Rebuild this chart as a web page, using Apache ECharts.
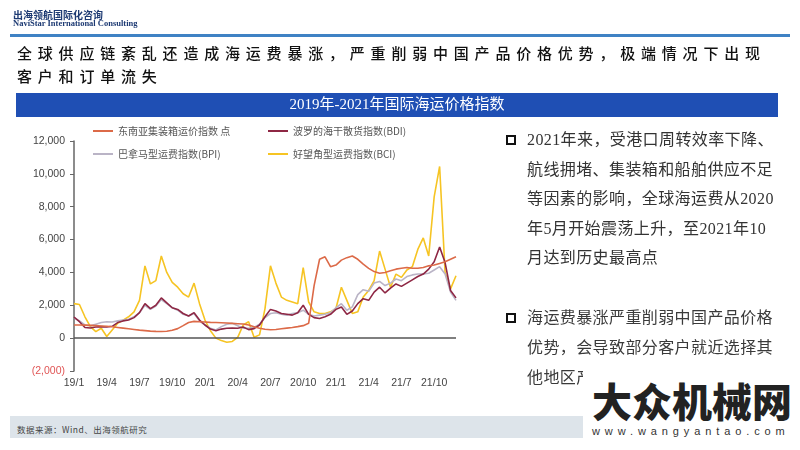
<!DOCTYPE html>
<html>
<head>
<meta charset="utf-8">
<script src="https://cdn.jsdelivr.net/npm/echarts@6.0.0/dist/echarts.min.js"></script>
<style>
  html, body { margin:0; padding:0; background:#fff; }
  body { width:800px; height:450px; position:relative; overflow:hidden; }
  #chart { position:absolute; left:0; top:0; width:800px; height:450px; }
  .ov { position:absolute; white-space:nowrap; z-index:2; }
  .cn { font-family:"Noto Sans CJK SC", sans-serif; }
  .bul { position:absolute; width:10px; height:10px; box-sizing:border-box; border:2.5px solid #111; z-index:2; }
  .body { font-family:"Liberation Serif","Noto Sans CJK SC",serif; font-size:16px; letter-spacing:0.4px; color:#333; }
</style>
</head>
<body>
<div id="chart"></div>

<div class="ov cn" style="left:13px;top:7px;font-size:10px;font-weight:bold;color:#1d3a73;">出海领航国际化咨询</div>
<div class="ov" style="left:13px;top:18px;font:bold 8.5px 'Liberation Serif',serif;color:#1d3a73;">NaviStar International Consulting</div>
<div class="ov" style="left:10px;top:34px;width:780px;height:3px;background:#3f82c4;"></div>

<div class="ov cn" style="left:17px;top:41px;font-size:15px;font-weight:500;line-height:23px;letter-spacing:5.8px;color:#111;">全球供应链紊乱还造成海运费暴涨，严重削弱中国产品价格优势，极端情况下出现</div>
<div class="ov cn" style="left:17px;top:64px;font-size:15px;font-weight:500;line-height:23px;letter-spacing:5.8px;color:#111;">客户和订单流失</div>

<div class="bul" style="left:506px;top:135px;"></div>
<div class="ov body" style="left:527px;top:125px;line-height:29.5px;">2021年来，受港口周转效率下降、<br>航线拥堵、集装箱和船舶供应不足<br>等因素的影响，全球海运费从2020<br>年5月开始震荡上升，至2021年10<br>月达到历史最高点</div>

<div class="bul" style="left:506px;top:313px;"></div>
<div class="ov body" style="left:527px;top:303px;line-height:30px;color:#3a3a3a;">海运费暴涨严重削弱中国产品价格<br>优势，会导致部分客户就近选择其<br>他地区产</div>

<div class="ov" style="left:10px;top:416px;width:575px;height:22px;background:#dde4ea;"></div>
<div class="ov cn" style="left:17px;top:422px;font-size:8.5px;line-height:14px;letter-spacing:0.5px;color:#444;">数据来源：Wind、出海领航研究</div>

<div class="ov" style="left:583px;top:368px;width:217px;height:82px;background:#fff;z-index:3;"></div>
<div class="ov cn" style="left:592px;top:380px;font-size:40px;line-height:40px;font-weight:900;color:#222;z-index:4;">大众机械网</div>
<div class="ov" style="left:592px;top:424px;font:11px 'Liberation Sans',sans-serif;line-height:14px;letter-spacing:4.9px;color:#333;z-index:4;">www.wangyantao.com</div>

<script>
const chartTitle = '2019年-2021年国际海运价格指数';
const seriesNames = ['东南亚集装箱运价指数 点', '波罗的海干散货指数(BDI)', '巴拿马型运费指数(BPI)', '好望角型运费指数(BCI)'];

const categories = [
  '2019-01-01','2019-01-16','2019-02-01','2019-02-16','2019-03-01','2019-03-16','2019-04-01','2019-04-16',
  '2019-05-01','2019-05-16','2019-06-01','2019-06-16','2019-07-01','2019-07-16','2019-08-01','2019-08-16',
  '2019-09-01','2019-09-16','2019-10-01','2019-10-16','2019-11-01','2019-11-16','2019-12-01','2019-12-16',
  '2020-01-01','2020-01-16','2020-02-01','2020-02-16','2020-03-01','2020-03-16','2020-04-01','2020-04-16',
  '2020-05-01','2020-05-16','2020-06-01','2020-06-16','2020-07-01','2020-07-16','2020-08-01','2020-08-16',
  '2020-09-01','2020-09-16','2020-10-01','2020-10-16','2020-11-01','2020-11-16','2020-12-01','2020-12-16',
  '2021-01-01','2021-01-16','2021-02-01','2021-02-16','2021-03-01','2021-03-16','2021-04-01','2021-04-16',
  '2021-05-01','2021-05-16','2021-06-01','2021-06-16','2021-07-01','2021-07-16','2021-08-01','2021-08-16',
  '2021-09-01','2021-09-16','2021-10-01','2021-10-16','2021-11-01','2021-11-16','2021-12-01'
];

const seaContainer = [
  800,800,790,780,760,740,720,690,650,610,570,530,490,460,430,410,
  400,420,480,580,760,950,1020,1000,980,960,950,940,920,900,880,860,
  800,700,600,540,510,530,570,610,650,700,760,900,3200,4800,4950,4350,
  4450,4750,4900,5000,4800,4500,4250,4050,3950,4000,4100,4200,4250,4300,4250,4250,
  4300,4400,4450,4550,4650,4800,4950
];
const bdi = [
  1280,1000,650,620,680,700,680,720,950,1050,1100,1250,1550,2100,1800,2000,
  2450,2150,1850,1750,1500,1350,1550,1100,800,550,450,550,600,620,600,680,
  520,580,800,1300,1750,1650,1500,1450,1400,1550,2000,1450,1250,1200,1300,1450,
  1750,1900,1450,1650,2100,2400,2300,2800,3100,2750,3050,3300,3150,3350,3550,3750,
  3900,4200,4650,5550,4600,2900,2450
];
const bpi = [
  1250,1050,800,750,850,950,1000,980,1050,1100,1150,1300,1550,2000,1750,1950,
  2350,2100,1850,1700,1450,1350,1500,1050,800,600,500,700,850,900,750,600,
  600,650,850,1250,1500,1550,1450,1400,1500,1550,1700,1450,1350,1400,1450,1550,
  1850,2100,1700,1900,2650,2950,2850,3350,3450,3200,3350,3600,3500,3750,3850,3900,
  3900,3950,4150,4350,3900,2800,2300
];
const bci = [
  2100,2050,1300,700,400,600,100,500,900,1100,1300,1600,2300,4400,3300,3500,
  5000,4000,3400,3100,2700,2500,3350,2100,1100,450,0,-150,-250,-200,50,800,
  1000,50,200,1800,4400,3350,2500,2300,2200,2100,4300,2200,1600,1500,1500,1600,
  1800,3100,2300,1500,1600,2500,2900,3500,5300,4200,3100,3900,3700,4150,4350,5400,
  6100,5000,8600,10450,4000,3000,3800
];

const colors = { sea:'#dc6a48', bdi:'#8e2744', bpi:'#bab4c6', bci:'#f6c423' };

function fmtNum(v) {
  return Math.abs(v).toString().replace(/\B(?=(\d{3})+(?!\d))/g, ',');
}

const chart = echarts.init(document.getElementById('chart'), null, { renderer: 'canvas' });

const legendCommon = {
  icon: 'rect', itemWidth: 20, itemHeight: 2, itemGap: 0, padding: 0,
  itemStyle: { borderWidth: 0 },
  textStyle: { fontSize: 10, color: '#555', fontFamily: '"Noto Sans CJK SC", sans-serif' },
  selectedMode: false
};
const legendItem = (i, left, top) => Object.assign({ data: [{ name: seriesNames[i], icon: 'rect' }], left, top }, legendCommon);

const lineSeries = (name, data, color, z) => ({
  name, type: 'line', data, showSymbol: false, symbol: 'none', smooth: false, z,
  lineStyle: { color, width: 1.6 }, itemStyle: { color }
});

const option = {
  animation: false,
  backgroundColor: '#fff',
  graphic: [
    { type: 'rect', shape: { x: 16, y: 93, width: 762, height: 24 }, style: { fill: '#1f4fb4' } },
    { type: 'text', x: 397, y: 105, style: { text: chartTitle, fill: '#fff', font: '15px "Liberation Serif","Noto Sans CJK SC", serif', align: 'center', verticalAlign: 'middle' } }
  ],
  legend: [
    legendItem(0, 93, 126),
    legendItem(1, 268, 126),
    legendItem(2, 93, 149),
    legendItem(3, 268, 149)
  ],
  grid: { left: 74, right: 344, top: 141, bottom: 79, containLabel: false },
  xAxis: {
    type: 'category', data: categories, boundaryGap: false,
    axisLine: { show: false, onZero: false },
    axisTick: { show: false },
    splitLine: { show: false },
    axisLabel: {
      interval: (i) => i % 6 === 0,
      formatter: (v) => v.slice(2, 4) + '/' + parseInt(v.slice(5, 7), 10),
      margin: 7, fontSize: 10.5, color: '#444', fontFamily: '"Liberation Sans", Arial, sans-serif'
    }
  },
  yAxis: {
    type: 'value', min: -2000, max: 12000, interval: 2000,
    axisLine: { show: true, lineStyle: { color: '#666', width: 1.5 } },
    axisTick: { show: true, length: 4, lineStyle: { color: '#666' } },
    splitLine: { show: false },
    axisLabel: {
      margin: 9, fontSize: 10.5, color: '#444', fontFamily: '"Liberation Sans", Arial, sans-serif',
      formatter: (v) => v < 0 ? '{neg|(' + fmtNum(v) + ')}' : fmtNum(v),
      rich: { neg: { color: '#e05555', fontSize: 10.5, fontFamily: '"Liberation Sans", Arial, sans-serif' } }
    }
  },
  series: [
    Object.assign(lineSeries(seriesNames[3], bci, colors.bci, 2), {
      markLine: {
        silent: true, symbol: ['none', 'none'], animation: false,
        label: { show: false },
        lineStyle: { color: '#555', width: 1.5, type: 'solid' },
        data: [{ yAxis: 0 }]
      }
    }),
    lineSeries(seriesNames[2], bpi, colors.bpi, 3),
    lineSeries(seriesNames[1], bdi, colors.bdi, 4),
    lineSeries(seriesNames[0], seaContainer, colors.sea, 5)
  ]
};

chart.setOption(option);
</script>
</body>
</html>
